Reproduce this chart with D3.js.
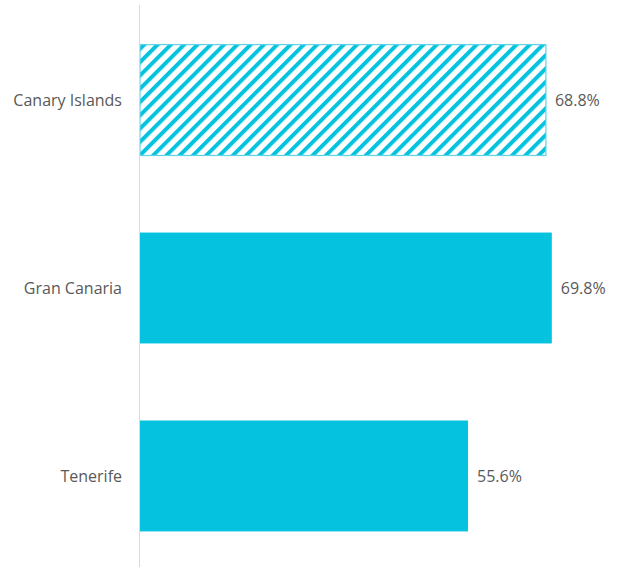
<!DOCTYPE html>
<html>
<head>
<meta charset="utf-8">
<script src="https://cdn.jsdelivr.net/npm/d3@7"></script>
<style>
  html, body { margin: 0; padding: 0; background: #fff; }
  svg { display: block; }
</style>
</head>
<body>
<svg id="chart" width="617" height="567"></svg>
<script>
// Share of the total, by island
const categories = ["Canary Islands", "Gran Canaria", "Tenerife"];
const values = [68.8, 69.8, 55.6];
const hatched = [true, false, false];

const W = 617, H = 567;
const barColor = "#05c3de";
const textColor = "#595959";
const fontFamily = "'Open Sans', sans-serif";

const svg = d3.select("#chart");

const x = d3.scaleLinear().domain([0, 80]).range([140, 612]);
const y = d3.scaleBand().domain(categories).range([7, 569])
  .paddingInner(0.41).paddingOuter(0.2);

// Diagonal stripe pattern for the aggregate bar
const stripeStep = 9.4;
const defs = svg.append("defs");
const pat = defs.append("pattern")
  .attr("id", "stripes")
  .attr("patternUnits", "userSpaceOnUse")
  .attr("width", stripeStep).attr("height", stripeStep)
  .attr("patternTransform", "rotate(45)");
pat.append("rect").attr("width", stripeStep).attr("height", stripeStep).attr("fill", "#fff");
pat.append("rect").attr("x", 0).attr("y", 0).attr("width", 4).attr("height", stripeStep)
  .attr("fill", barColor);

// Bars
svg.append("g").selectAll("rect")
  .data(categories)
  .join("rect")
  .attr("x", x(0))
  .attr("y", d => y(d))
  .attr("width", (d, i) => x(values[i]) - x(0))
  .attr("height", y.bandwidth())
  .attr("fill", (d, i) => hatched[i] ? "url(#stripes)" : barColor)
  .attr("stroke", (d, i) => hatched[i] ? "#5fd3e6" : "none")
  .attr("stroke-width", 1.2);

// Vertical category axis line
svg.append("line")
  .attr("x1", 139.5).attr("x2", 139.5)
  .attr("y1", 5).attr("y2", H)
  .attr("stroke", "#d9d9d9").attr("stroke-width", 1);

// Category labels
svg.append("g").selectAll("text")
  .data(categories)
  .join("text")
  .attr("x", 122)
  .attr("y", d => y(d) + y.bandwidth() / 2)
  .attr("dy", "0.35em")
  .attr("text-anchor", "end")
  .attr("font-family", fontFamily)
  .attr("font-size", 16)
  .attr("fill", textColor)
  .text(d => d);

// Value labels
svg.append("g").selectAll("text")
  .data(categories)
  .join("text")
  .attr("x", (d, i) => x(values[i]) + 9)
  .attr("y", d => y(d) + y.bandwidth() / 2)
  .attr("dy", "0.35em")
  .attr("text-anchor", "start")
  .attr("font-family", fontFamily)
  .attr("font-size", 16)
  .attr("fill", textColor)
  .text((d, i) => values[i].toFixed(1) + "%");
</script>
</body>
</html>
